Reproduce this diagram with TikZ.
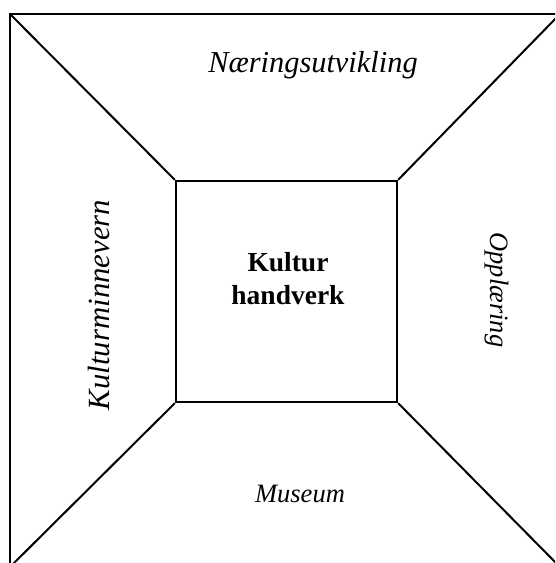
\documentclass[tikz,border=0pt]{standalone}
\usepackage{fontspec}
\setmainfont{Liberation Serif}
\begin{document}
\begin{tikzpicture}[x=1pt,y=-1pt,
  frame/.style={line width=2.4pt},
  diag/.style={line width=2pt},
  lab/.style={font=\fontsize{26.5}{30}\selectfont\itshape, inner sep=0pt, anchor=base},
  boldlab/.style={font=\fontsize{27.5}{33}\selectfont\bfseries, inner sep=0pt, anchor=base},
  core/.style={draw, line width=2.4pt, minimum width=221pt, minimum height=221pt, inner sep=0pt}]
\useasboundingbox (0,0) rectangle (555,563);
\clip (0,0) rectangle (555,563);
\fill[white] (0,0) rectangle (555,563);
\coordinate (otl) at (10,14);
\coordinate (otr) at (560,14);
\coordinate (obl) at (10,567);
\coordinate (obr) at (560,567);
\draw[frame] (otl) rectangle (obr);
\node[core] (c) at (286.5,291.5) {};
\node[boldlab] (k1) at (288,271) {Kultur};
\node[boldlab] (k2) at (288,304) {handverk};
\draw[diag] (otl) -- (c.north west);
\draw[diag] (otr) -- (c.north east);
\draw[diag] (obl) -- (c.south west);
\draw[diag] (obr) -- (c.south east);
\node[lab, font=\fontsize{30.4}{34}\selectfont\itshape] (top) at (313,72) {Næringsutvikling};
\node[lab] (bot) at (300,502) {Museum};
\node[lab, rotate=90, font=\fontsize{30.8}{34}\selectfont\itshape] (left) at (109,305) {Kulturminnevern};
\node[lab, rotate=-90] (right) at (490,290) {Opplæring};
\end{tikzpicture}
\end{document}
